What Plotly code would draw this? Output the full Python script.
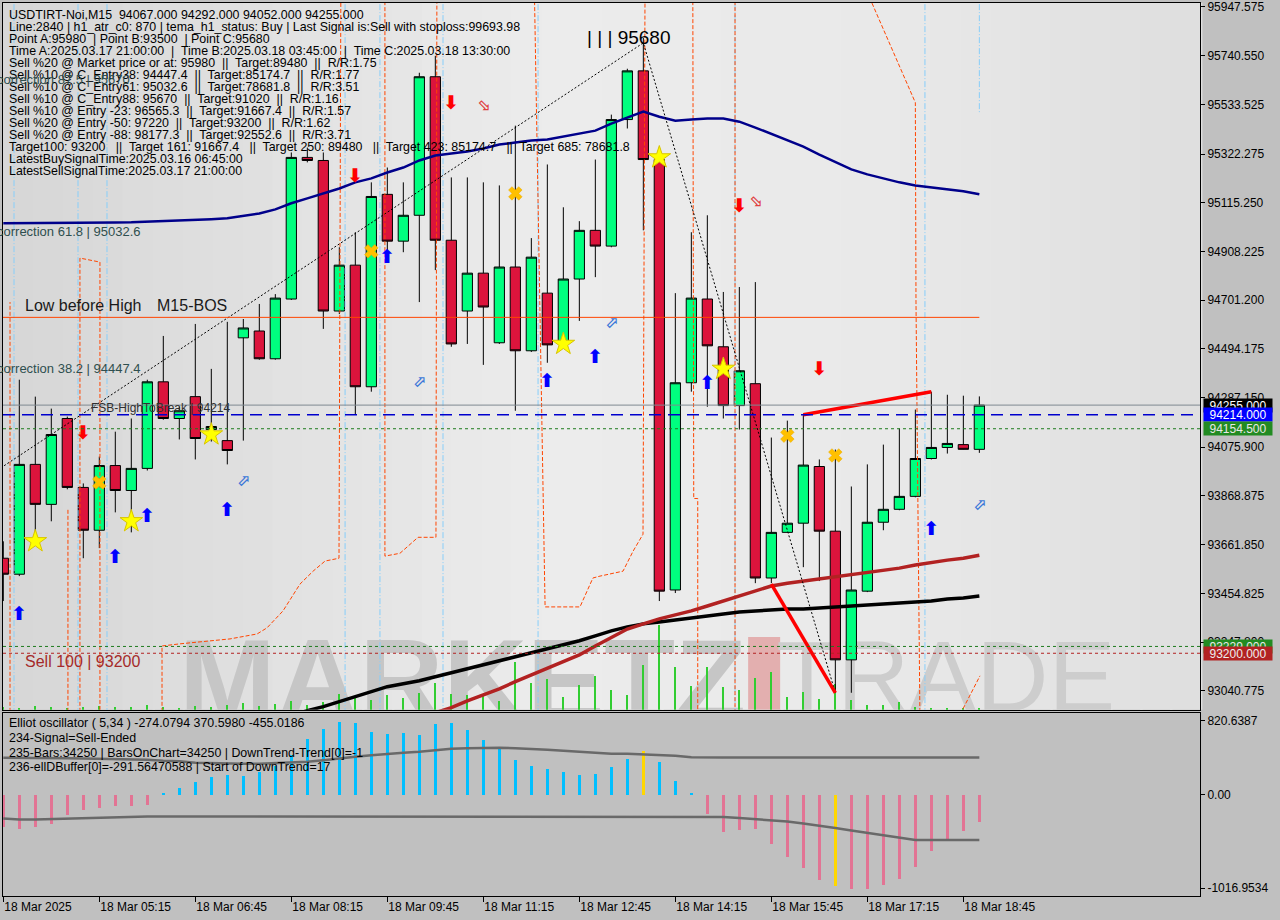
import plotly.graph_objects as go

# ---------------- data ----------------
bars = list(range(62))
opens = [93604, 93536, 94003, 93833, 94198, 93905, 93723, 93998, 93892, 93986,
         94354, 94198, 94291, 94151, 94104, 94541, 94570, 94452, 94706, 95308,
         95295, 94655, 94850, 94333, 95151, 94952, 95062, 95651, 94956, 94655,
         94816, 94520, 94842, 94486, 94731, 94520, 94791, 94998, 94931, 95469,
         95676, 95299, 93469, 94350, 94706, 94503, 94253, 94346, 93520, 93714,
         93753, 93994, 93719, 93172, 93464, 93757, 93812, 93867, 94028, 94075,
         94087, 94067]
highs = [93676, 94363, 94291, 94240, 94206, 93922, 94036, 94142, 94198, 94363,
         94549, 94248, 94600, 94409, 94609, 94621, 94685, 94727, 95329, 95350,
         95329, 94926, 94990, 95202, 95265, 95202, 95668, 95740, 95223, 95223,
         95202, 95189, 95443, 94965, 95278, 95096, 95037, 95299, 95490, 95685,
         95816, 95329, 94731, 94990, 95062, 94736, 94757, 94778, 94117, 94189,
         94214, 94024, 94066, 93909, 94003, 94087, 94155, 94236, 94312, 94299,
         94295, 94292]
lows = [93422, 93528, 93676, 93761, 93897, 93604, 93647, 93799, 93714, 93977,
        94193, 94109, 94024, 94100, 94003, 94104, 94448, 94448, 94702, 95287,
        94579, 94642, 94214, 94312, 94905, 94905, 94693, 94829, 94503, 94515,
        94426, 94515, 94231, 94481, 94435, 94511, 94613, 94799, 94926, 95431,
        94998, 93422, 93456, 94312, 94248, 94198, 94151, 93498, 93498, 93714,
        93566, 93507, 93032, 93032, 93460, 93723, 93808, 93863, 94024, 94049,
        94066, 94052]
closes = [93536, 94003, 93833, 94130, 93905, 93723, 93998, 93892, 93986, 94354,
          94198, 94231, 94113, 94164, 94062, 94583, 94452, 94710, 95308, 95295,
          94655, 94850, 94333, 95142, 94952, 95062, 95651, 94956, 94515, 94816,
          94672, 94842, 94486, 94884, 94511, 94791, 94998, 94931, 95469, 95676,
          95299, 93464, 94350, 94710, 94507, 94253, 94401, 93520, 93714, 93753,
          94000, 93719, 93172, 93469, 93757, 93812, 93867, 94028, 94075, 94092,
          94067, 94255]
volumes = [30, 20, 40, 30, 20, 30, 40, 30, 30, 50, 30, 20, 40, 30, 50, 70, 40, 60,
           90, 50, 80, 160, 120, 100, 150, 120, 170, 270, 160, 150, 150, 90, 480,
           270, 310, 130, 250, 340, 200, 150, 450, 850, 430, 240, 430, 230, 200,
           320, 380, 130, 180, 110, 260, 100, 50, 50, 80, 30, 20, 20, 20, 20]

ma_blue = [95028, 95028, 95028, 95028, 95028, 95030, 95030, 95031, 95032, 95034,
           95036, 95038, 95041, 95045, 95049, 95058, 95070, 95087, 95113, 95134,
           95155, 95176, 95202, 95219, 95244, 95265, 95295, 95316, 95325, 95333,
           95346, 95363, 95371, 95380, 95384, 95397, 95409, 95422, 95452, 95477,
           95503, 95481, 95464, 95469, 95473, 95473, 95460, 95435, 95409, 95380,
           95354, 95320, 95287, 95257, 95236, 95219, 95202, 95189, 95181, 95172,
           95164, 95151]
ma_black_bars = list(range(18, 62))
ma_black = [92935, 92956, 92973, 92994, 93015, 93036, 93058, 93070, 93083, 93100,
            93117, 93134, 93151, 93168, 93185, 93202, 93219, 93236, 93253, 93274,
            93295, 93312, 93325, 93333, 93342, 93350, 93358, 93367, 93375, 93380,
            93384, 93388, 93388, 93392, 93397, 93401, 93405, 93409, 93414, 93418,
            93422, 93431, 93435, 93443]
ma_red_bars = list(range(27, 62))
ma_red = [92947, 92969, 92998, 93024, 93049, 93079, 93108, 93134, 93164, 93193,
          93231, 93269, 93303, 93325, 93346, 93363, 93380, 93401, 93422, 93443,
          93464, 93486, 93498, 93507, 93515, 93524, 93532, 93541, 93553, 93562,
          93575, 93587, 93596, 93604, 93617]

# zigzag (dotted) and trend lines
zigzag_bars = [-11, 40, 52]
zigzag_prices = [93500, 95795, 93032]
trend1_bars = [48, 52]
trend1_prices = [93494, 93032]
trend2_bars = [50, 58]
trend2_prices = [94214, 94312]

# stepped orange dashed indicator (None = gap)
orange_bars = [0.42, 0.42, None, 4.04, 4.04, None, 4.79, 4.79, 6.04, 6.04, None,
               9.92, 9.92, 11.04, 14.17, 15.86, 16.48, 17.48, 18.54, 19.36, 20.11, 20.98, 21.1, None,
               23.85, 23.85, 24.79, 25.92, 27.04, 27.1, None,
               33.17, 33.86, 33.98, 36.04, 36.85, 37.29, 38.73, 39.36, 39.98, 40.11, None,
               43.09, 43.15, 43.4, 43.4, None, 45.73, 45.73, None,
               54.29, 57.0, 57.04, 57.29, None, 59.98, 61.04]
orange_prices = [92900, 94693, None, 92900, 93816, None, 92900, 94880, 94863, 92900, None,
                 92900, 93231, 93240, 93261, 93282, 93308, 93380, 93494, 93549, 93592, 93604, 96100, None,
                 96100, 93613, 93625, 93693, 93693, 96100, None,
                 96100, 93397, 93397, 93397, 93520, 93528, 93549, 93634, 93706, 96100, None,
                 96100, 93858, 93858, 92900, None, 96100, 92900, None,
                 95964, 95541, 94693, 92900, None, 92964, 93104]
lightblue_bars = [0.67, 4.67, 6.48, 21.36, 23.54, 27.48, 33.42, 45.73, 57.6]
lightblue_short_bar = 61.0
lightblue_short_low = 95498

# horizontal levels
level_bid = 94255.0
level_fsb = 94214.0
level_green = 94154.5
level_green2 = 93229.0
level_sell100 = 93200.0
level_bos = 94628.0

# signal markers (bar, price)
up_bars = [1, 7, 9, 14, 24, 34, 37, 44, 58]
up_prices = [93363, 93604, 93778, 93803, 94880, 94354, 94456, 94342, 93723]
down_bars = [5, 22, 28, 46, 51]
down_prices = [94130, 95223, 95532, 95096, 94405]
hollow_up_bars = [15, 26, 38, 61]
hollow_up_prices = [93926, 94350, 94600, 93825]
hollow_dn_bars = [30, 47]
hollow_dn_prices = [95528, 95117]
star_bars = [2, 8, 13, 35, 41, 45]
star_prices = [93676, 93761, 94130, 94515, 95308, 94409]
x_bars = [6, 23, 32, 49, 52]
x_prices = [93926, 94909, 95155, 94125, 94041]

# oscillator
osc_hist = [-320, -340, -320, -290, -200, -150, -130, -110, -110, -100,
            20, 70, 130, 180, 200, 190, 230, 290, 400, 560,
            660, 730, 720, 630, 610, 620, 600, 710, 720, 650,
            550, 460, 350, 290, 260, 230, 200, 210, 280, 360,
            440, 330, 140, 10, -190, -370, -350, -340, -490, -620,
            -730, -850, -910, -940, -940, -900, -840, -720, -560, -440,
            -360, -274]
osc_upper = [370, 370, 370, 365, 365, 362, 360, 358, 355, 350,
             340, 335, 320, 315, 310, 310, 310, 315, 320, 330,
             345, 365, 380, 395, 410, 420, 430, 445, 460, 465,
             470, 470, 465, 460, 450, 440, 430, 420, 410, 410,
             405, 400, 390, 375] + [370.6] * 18
osc_lower = [-240, -250, -250, -245, -240, -235, -230, -230, -225] + [-220] * 36 + \
            [-225, -235, -245, -255, -270, -290, -310, -335, -360, -385, -410, -435,
             -455, -455, -455, -455, -455.0186]
osc_signal_bars = [40, 52]

price_ticks = [95947.575, 95740.550, 95533.525, 95322.275, 95115.250, 94908.225,
               94701.200, 94494.175, 94287.150, 94075.900, 93868.875, 93661.850,
               93454.825, 93247.800, 93040.775]
price_tick_text = ["%.3f" % v for v in price_ticks]
osc_tick_vals = [740.7, 0.0, -937.0]
osc_tick_text = ["820.6387", "0.00", "-1016.9534"]
time_tick_bars = [0, 6, 12, 18, 24, 30, 36, 42, 48, 54, 60]
time_tick_text = ["18 Mar 2025", "18 Mar 05:15", "18 Mar 06:45", "18 Mar 08:15",
                  "18 Mar 09:45", "18 Mar 11:15", "18 Mar 12:45", "18 Mar 14:15",
                  "18 Mar 15:45", "18 Mar 17:15", "18 Mar 18:45"]

NB = "\u00a0"
P1 = " " + NB + "|" + NB + " "
P2 = " " + NB + "||" + NB + " "
info_lines = [
    "USDTIRT-Noi,M15 " + NB + "94067.000 94292.000 94052.000 94255.000",
    "Line:2840 | h1_atr_c0: 870 | tema_h1_status: Buy | Last Signal is:Sell with stoploss:99693.98",
    "Point A:95980 " + NB + "| Point B:93500 " + NB + "| Point C:95680",
    "Time A:2025.03.17 21:00:00" + P1 + "Time B:2025.03.18 03:45:00" + P1 + "Time C:2025.03.18 13:30:00",
    "Sell %20 @ Market price or at: 95980" + P2 + "Target:89480" + P2 + "R/R:1.75",
    "Sell %10 @ C_Entry38: 94447.4" + P2 + "Target:85174.7" + P2 + "R/R:1.77",
    "Sell %10 @ C_Entry61: 95032.6" + P2 + "Target:78681.8" + P2 + "R/R:3.51",
    "Sell %10 @ C_Entry88: 95670" + P2 + "Target:91020" + P2 + "R/R:1.16",
    "Sell %10 @ Entry -23: 96565.3" + P2 + "Target:91667.4" + P2 + "R/R:1.57",
    "Sell %20 @ Entry -50: 97220" + P2 + "Target:93200" + P2 + "R/R:1.62",
    "Sell %20 @ Entry -88: 98177.3" + P2 + "Target:92552.6" + P2 + "R/R:3.71",
    ("Target100: 93200 || Target 161: 91667.4 || Target 250: 89480 || Target 423: 85174.7 || Target 685: 78681.8"
     ).replace(" || ", " " + NB + NB + "||" + NB + " "),
    "LatestBuySignalTime:2025.03.16 06:45:00",
    "LatestSellSignalTime:2025.03.17 21:00:00",
]
osc_lines = [
    "Elliot oscillator ( 5,34 ) -274.0794 370.5980 -455.0186",
    "234-Signal=Sell-Ended",
    "235-Bars:34250 | BarsOnChart=34250 | DownTrend-Trend[0]=-1",
    "236-ellDBuffer[0]=-291.56470588 | Start of DownTrend=17",
]

# ---------------- layout helpers ----------------
W, H = 1280, 920
FONT = "Liberation Sans, Arial, sans-serif"
ARROWFONT = "DejaVu Sans, Noto Sans, sans-serif"


def px(x):
    return x / W


def py(y):
    return 1 - y / H


X_RANGE = [-0.019, 74.79]
Y_RANGE = [92960.1, 95964.5]
TOP_OFF, BOT_OFF = 96100, 92900
MAIN = dict(xaxis="x", yaxis="y4")   # chart marks sit on an overlay above the watermark

fig = go.Figure()

# main panel background: soft horizontal gradient built from thin bands
grad_stops = [(0.0, 214), (0.45, 236), (0.75, 233), (1.0, 222)]
n_bands = 40
for i in range(n_bands):
    t = (i + 0.5) / n_bands
    for (a, ca), (b, cb) in zip(grad_stops[:-1], grad_stops[1:]):
        if a <= t <= b:
            g = int(round(ca + (cb - ca) * (t - a) / (b - a)))
            break
    fig.add_shape(type="rect", xref="x domain", yref="y domain", x0=i / n_bands, x1=(i + 1) / n_bands + 0.002,
                  y0=0, y1=1, fillcolor="rgb(%d,%d,%d)" % (g, g, g), line_width=0, layer="below")
fig.add_shape(type="rect", xref="x", yref="y", x0=46.55, x1=48.55, y0=Y_RANGE[0], y1=93269,
              fillcolor="#e2a4a4", opacity=0.85, line_width=0, layer="below")

# watermark on the base axis (drawn beneath everything else)
fig.add_trace(go.Scatter(x=[28.7], y=[93034], mode="text", text=["MARKETZ"],
                         textfont=dict(family=FONT, size=116, color="#c6c6c6", weight="bold"),
                         hoverinfo="skip", showlegend=False, cliponaxis=True))
fig.add_trace(go.Scatter(x=[58.9], y=[93062], mode="text", text=["TRADE"],
                         textfont=dict(family=FONT, size=100, color="#cdcdcd"),
                         hoverinfo="skip", showlegend=False, cliponaxis=True))

# volumes (overlay axis y3)
fig.add_trace(go.Bar(x=bars, y=volumes, width=0.07, marker=dict(color="#32CD32", line_width=0),
                     yaxis="y3", hoverinfo="skip", showlegend=False))

# indicator verticals
lb_x, lb_y = [], []
for b in lightblue_bars:
    lb_x += [b, b, None]
    lb_y += [TOP_OFF, BOT_OFF, None]
lb_x += [lightblue_short_bar, lightblue_short_bar]
lb_y += [TOP_OFF, lightblue_short_low]
fig.add_trace(go.Scatter(x=lb_x, y=lb_y, mode="lines", line=dict(color="#87CEFA", width=1, dash="6px,2px,1px,2px"),
                         hoverinfo="skip", showlegend=False, **MAIN))
fig.add_trace(go.Scatter(x=orange_bars, y=orange_prices, mode="lines", connectgaps=False,
                         line=dict(color="#FF4500", width=1, dash="4px,2px"),
                         hoverinfo="skip", showlegend=False, **MAIN))

# candles
fig.add_trace(go.Candlestick(x=bars, open=opens, high=highs, low=lows, close=closes,
                             increasing=dict(fillcolor="#00FF7F", line=dict(color="black", width=1)),
                             decreasing=dict(fillcolor="#DC143C", line=dict(color="black", width=1)),
                             whiskerwidth=0, hoverinfo="skip", showlegend=False, **MAIN))

# moving averages
fig.add_trace(go.Scatter(x=bars, y=ma_blue, mode="lines", line=dict(color="#00008B", width=2.5),
                         hoverinfo="skip", showlegend=False, **MAIN))
fig.add_trace(go.Scatter(x=ma_black_bars, y=ma_black, mode="lines", line=dict(color="black", width=3.5),
                         hoverinfo="skip", showlegend=False, **MAIN))
fig.add_trace(go.Scatter(x=ma_red_bars, y=ma_red, mode="lines", line=dict(color="#B22222", width=3.5),
                         hoverinfo="skip", showlegend=False, **MAIN))

# zigzag & trendlines
fig.add_trace(go.Scatter(x=zigzag_bars, y=zigzag_prices, mode="lines", line=dict(color="black", width=1, dash="2px,2px"),
                         hoverinfo="skip", showlegend=False, **MAIN))
for tb, tp in ((trend1_bars, trend1_prices), (trend2_bars, trend2_prices)):
    fig.add_trace(go.Scatter(x=tb, y=tp, mode="lines", line=dict(color="#FF0000", width=3.5),
                             hoverinfo="skip", showlegend=False, **MAIN))

# markers
fig.add_trace(go.Scatter(x=star_bars, y=star_prices, mode="markers",
                         marker=dict(symbol="star", size=17, color="#FFFF00", line=dict(color="#D8C400", width=1)),
                         hoverinfo="skip", showlegend=False, **MAIN))
fig.add_trace(go.Scatter(x=x_bars, y=x_prices, mode="markers",
                         marker=dict(symbol="x", size=12, color="#FFC000", line=dict(color="#E8A800", width=0.5)),
                         hoverinfo="skip", showlegend=False, **MAIN))
for xs, ys, glyph, col, sz in ((up_bars, up_prices, "\u2B06", "#0000FF", 19),
                               (down_bars, down_prices, "\u2B07", "#FF0000", 19),
                               (hollow_up_bars, hollow_up_prices, "\u2B00", "#3C78D8", 16),
                               (hollow_dn_bars, hollow_dn_prices, "\u2B02", "#E04040", 16)):
    fig.add_trace(go.Scatter(x=xs, y=ys, mode="text", text=[glyph] * len(xs),
                             textfont=dict(family=ARROWFONT, size=sz, color=col, weight="bold"),
                             hoverinfo="skip", showlegend=False, **MAIN))

# oscillator
hist_colors = ["#FFD700" if i in osc_signal_bars else ("#00BFFF" if v >= 0 else "#E27494")
               for i, v in enumerate(osc_hist)]
fig.add_trace(go.Bar(x=bars, y=osc_hist, width=0.19, marker=dict(color=hist_colors, line_width=0),
                     xaxis="x2", yaxis="y2", hoverinfo="skip", showlegend=False))
fig.add_trace(go.Scatter(x=bars, y=osc_upper, mode="lines", line=dict(color="#696969", width=2.5),
                         xaxis="x2", yaxis="y2", hoverinfo="skip", showlegend=False))
fig.add_trace(go.Scatter(x=bars, y=osc_lower, mode="lines", line=dict(color="#696969", width=2.5),
                         xaxis="x2", yaxis="y2", hoverinfo="skip", showlegend=False))

# horizontal level lines
shapes = [
    dict(type="line", xref="x domain", x0=0, x1=1, yref="y", y0=level_bid, y1=level_bid,
         line=dict(color="#7f8890", width=1)),
    dict(type="line", xref="x domain", x0=0, x1=1, yref="y", y0=level_fsb, y1=level_fsb,
         line=dict(color="#0000CD", width=1.3, dash="12px,7px")),
    dict(type="line", xref="x domain", x0=0, x1=1, yref="y", y0=level_green, y1=level_green,
         line=dict(color="#1E7B1E", width=1, dash="3px,3px")),
    dict(type="line", xref="x domain", x0=0, x1=1, yref="y", y0=level_green2, y1=level_green2,
         line=dict(color="#1E7B1E", width=1, dash="3px,3px")),
    dict(type="line", xref="x domain", x0=0, x1=1, yref="y", y0=level_sell100, y1=level_sell100,
         line=dict(color="#B22222", width=1, dash="3px,3px")),
    dict(type="line", xref="x", x0=-1, x1=61, yref="y", y0=level_bos, y1=level_bos,
         line=dict(color="#FF4500", width=1)),
]
for s in shapes:
    fig.add_shape(**s)

ann = []
for i, t in enumerate(info_lines):
    ann.append(dict(xref="paper", yref="paper", x=px(7), y=py(12 + i * 12.08), xanchor="left", yanchor="middle",
                    text=t, showarrow=False, font=dict(family=FONT, size=12.4, color="black")))
for i, t in enumerate(osc_lines):
    ann.append(dict(xref="paper", yref="paper", x=px(7), y=py(722 + i * 15), xanchor="left", yanchor="middle",
                    text=t, showarrow=False, font=dict(family=FONT, size=12.4, color="black")))
for t, yy in (("correction 87.5 | 95670", 77), ("correction 61.8 | 95032.6", 229),
              ("correction 38.2 | 94447.4", 367)):
    ann.append(dict(xref="paper", yref="paper", x=px(-5), y=py(yy), xanchor="left", yanchor="middle",
                    text=t, showarrow=False, font=dict(family=FONT, size=13, color="#2F4F4F")))
ann.append(dict(xref="paper", yref="paper", x=px(23), y=py(303), xanchor="left", yanchor="middle",
                text="Low before High", showarrow=False, font=dict(family=FONT, size=16, color="#1a1a1a")))
ann.append(dict(xref="paper", yref="paper", x=px(155), y=py(303), xanchor="left", yanchor="middle",
                text="M15-BOS", showarrow=False, font=dict(family=FONT, size=16, color="#1a1a1a")))
ann.append(dict(xref="paper", yref="paper", x=px(89), y=py(406), xanchor="left", yanchor="middle",
                text="FSB-HighToBreak | 94214", showarrow=False, font=dict(family=FONT, size=12, color="#303030")))
ann.append(dict(xref="paper", yref="paper", x=px(23), y=py(661), xanchor="left", yanchor="middle",
                text="Sell 100 | 93200", showarrow=False, font=dict(family=FONT, size=16, color="#A52A2A")))
ann.append(dict(xref="paper", yref="paper", x=px(628), y=py(35), xanchor="center", yanchor="middle",
                text="| | | 95680", showarrow=False, font=dict(family=FONT, size=19, color="black")))

# price boxes on the right axis
for lvl, txt, bg, fc in ((level_bid, "94255.000", "#000000", "#ffffff"),
                         (level_fsb, "94214.000", "#0000FF", "#ffffff"),
                         (level_green, "94154.500", "#228B22", "#e8e8e8"),
                         (level_green2, "93229.000", "#228B22", "#e8e8e8"),
                         (level_sell100, "93200.000", "#B22222", "#eeeeee")):
    ann.append(dict(xref="paper", x=px(1203), xanchor="left", yref="y", y=lvl, yanchor="middle",
                    text=txt, showarrow=False, bgcolor=bg, width=68, height=13, borderpad=0,
                    font=dict(family=FONT, size=12, color=fc)))

axis_common = dict(showgrid=False, zeroline=False, showline=True, mirror=True, linecolor="black", linewidth=1)
fig.update_layout(
    width=W, height=H, margin=dict(l=0, r=0, t=0, b=0),
    paper_bgcolor="#c0c0c0", plot_bgcolor="#c0c0c0",
    showlegend=False, boxgap=0.2, boxgroupgap=0.2, bargap=0,
    font=dict(family=FONT, size=12, color="black"),
    xaxis=dict(domain=[px(3), px(1200)], range=X_RANGE, anchor="y", showticklabels=False, ticks="",
               rangeslider=dict(visible=False), **axis_common),
    yaxis=dict(domain=[py(709), 1], range=Y_RANGE, side="right", anchor="x",
               tickmode="array", tickvals=price_ticks, ticktext=price_tick_text, ticklabeloverflow="allow",
               ticks="outside", ticklen=4, tickcolor="black", tickfont=dict(family=FONT, size=12, color="black"),
               **axis_common),
    yaxis3=dict(overlaying="y", range=[0, 7090], visible=False, anchor="x"),
    yaxis4=dict(overlaying="y", range=Y_RANGE, visible=False, anchor="x"),
    xaxis2=dict(domain=[px(3), px(1200)], range=X_RANGE, anchor="y2", matches="x",
                tickmode="array", tickvals=time_tick_bars, ticktext=time_tick_text,
                ticks="outside", ticklen=5, tickcolor="black", ticklabelposition="outside right",
                tickfont=dict(family=FONT, size=12, color="black"), **axis_common),
    yaxis2=dict(domain=[py(896), py(712)], range=[-1016.9534, 820.6387], side="right", anchor="x2",
                tickmode="array", tickvals=osc_tick_vals, ticktext=osc_tick_text, ticklabeloverflow="allow",
                ticks="outside", ticklen=4, tickcolor="black", tickfont=dict(family=FONT, size=12, color="black"),
                **axis_common),
    annotations=ann,
)

fig.write_html("out.html", config={"displayModeBar": False},
               post_script="document.body.style.margin='0px';document.body.style.overflow='hidden';")
